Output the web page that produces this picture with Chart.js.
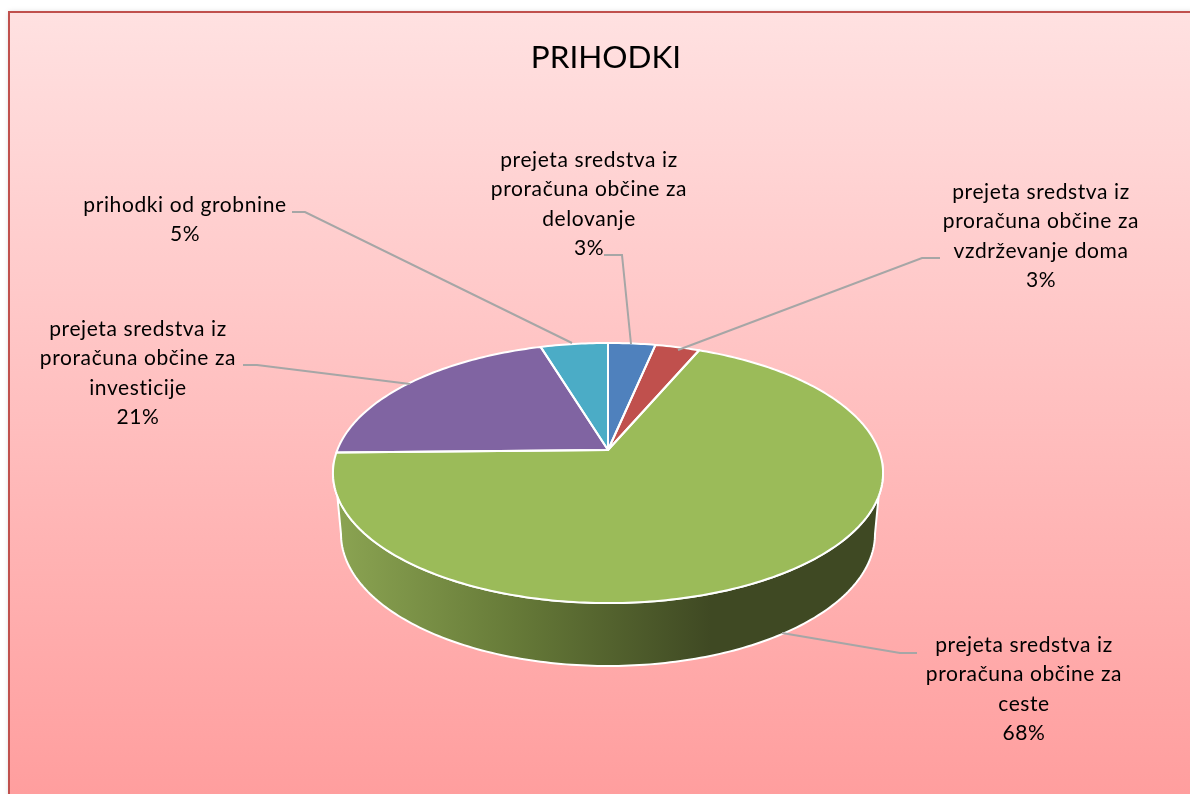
<!DOCTYPE html>
<html>
<head>
<meta charset="utf-8">
<style>html,body{margin:0;padding:0;background:#fff;overflow:hidden}canvas{display:block}</style>
<script src="https://cdn.jsdelivr.net/npm/chart.js@4/dist/chart.umd.min.js"></script>
</head>
<body>
<div style="width:1190px;height:794px"><canvas id="c" width="1190" height="794"></canvas></div>
<script>
const titleText = 'PRIHODKI';
const categories = [
  ['prejeta sredstva iz', 'proračuna občine za', 'delovanje'],
  ['prejeta sredstva iz', 'proračuna občine za', 'vzdrževanje doma'],
  ['prejeta sredstva iz', 'proračuna občine za', 'ceste'],
  ['prejeta sredstva iz', 'proračuna občine za', 'investicije'],
  ['prihodki od grobnine']
];
const values = [3.3, 3.1, 68.3, 20.6, 4.7];
const sliceColors = ['#4F81BD', '#C0504D', '#9BBB59', '#8064A2', '#4BACC6'];

// layout of the 3D look and of the labels (not data)
const FONT = 'Lato, Carlito, Calibri, sans-serif';
const pieShiftX = 2;
const persp = { A: 270.7, B: 126, k: 0.177 };
const wallBottom = { rx: 267, ry: 132, cy: 534 };
const labelPos = [
  { x: 589, y: 160 }, { x: 1041, y: 192 }, { x: 1024, y: 645 }, { x: 138, y: 329 }, { x: 185, y: 205 }
];
const leaders = [
  [[604, 255], [622, 255], [631, 344]],
  [[940, 258], [922, 258], [678, 350]],
  [[917, 653], [900, 653], [782, 633]],
  [[243, 365], [257, 365], [410, 384]],
  [[292, 212], [305, 212], [572, 343]]
];

function project(cx, cy, t) {
  const s = Math.sin(t), d = 1 - persp.k * s;
  return [cx + persp.A * Math.cos(t) / d, cy + persp.B * s / d];
}

function slicePath(ctx, cx, cy, arc) {
  const steps = Math.max(4, Math.ceil((arc.endAngle - arc.startAngle) * 60));
  ctx.beginPath();
  ctx.moveTo(cx, cy);
  for (let j = 0; j <= steps; j++) {
    const p = project(cx, cy, arc.startAngle + (arc.endAngle - arc.startAngle) * j / steps);
    ctx.lineTo(p[0], p[1]);
  }
  ctx.closePath();
}

const pie3d = {
  id: 'pie3d',
  beforeDraw(chart) {
    const { ctx, width, height } = chart;
    ctx.save();
    const g = ctx.createLinearGradient(0, 13, 0, height);
    g.addColorStop(0, '#FFE1E1');
    g.addColorStop(1, '#FF9E9E');
    ctx.fillStyle = g;
    ctx.shadowColor = 'rgba(0,0,0,0.18)';
    ctx.shadowBlur = 5;
    ctx.fillRect(9, 12, width, height);
    ctx.shadowColor = 'transparent';
    ctx.strokeStyle = '#C0504D';
    ctx.lineWidth = 2;
    ctx.beginPath();
    ctx.moveTo(9, height + 5);
    ctx.lineTo(9, 12);
    ctx.lineTo(width + 5, 12);
    ctx.stroke();
    ctx.restore();
  },
  beforeDatasetDraw(chart) {
    const { ctx } = chart;
    const arcs = chart.getDatasetMeta(0).data;
    const cx = arcs[0].x + pieShiftX, cy = arcs[0].y;
    ctx.save();
    ctx.lineJoin = 'round';
    // side wall: along the front of the top edge, then back along the lower ellipse
    const N = 160;
    const path = new Path2D();
    for (let i = 0; i <= N; i++) {
      const p = project(cx, cy, 0.09 + (Math.PI - 0.18) * i / N);
      if (i === 0) path.moveTo(p[0], p[1]); else path.lineTo(p[0], p[1]);
    }
    for (let i = 0; i <= N; i++) {
      const a = Math.PI - Math.PI * i / N;
      path.lineTo(cx + wallBottom.rx * Math.cos(a), wallBottom.cy + wallBottom.ry * Math.sin(a));
    }
    path.closePath();
    const g = ctx.createLinearGradient(cx - 272, 0, cx + 272, 0);
    g.addColorStop(0, '#8BA452');
    g.addColorStop(0.33, '#667A38');
    g.addColorStop(0.69, '#3F4923');
    g.addColorStop(1, '#3F4923');
    ctx.fillStyle = g;
    ctx.fill(path);
    ctx.strokeStyle = '#FFFFFF';
    ctx.lineWidth = 2;
    ctx.stroke(path);
    // top face, one slice per arc element of the chart
    arcs.forEach((arc, i) => {
      slicePath(ctx, cx, cy, arc);
      ctx.fillStyle = sliceColors[i];
      ctx.fill();
    });
    arcs.forEach((arc) => {
      slicePath(ctx, cx, cy, arc);
      ctx.strokeStyle = '#FFFFFF';
      ctx.lineWidth = 2;
      ctx.stroke();
    });
    ctx.restore();
    return false;
  },
  afterDraw(chart) {
    const { ctx } = chart;
    const total = values.reduce((a, b) => a + b, 0);
    ctx.save();
    ctx.strokeStyle = '#A6A6A6';
    ctx.lineWidth = 2;
    leaders.forEach(pts => {
      ctx.beginPath();
      pts.forEach((p, i) => i ? ctx.lineTo(p[0], p[1]) : ctx.moveTo(p[0], p[1]));
      ctx.stroke();
    });
    ctx.fillStyle = '#000000';
    ctx.font = '21px ' + FONT;
    ctx.letterSpacing = '0.6px';
    ctx.textAlign = 'center';
    ctx.textBaseline = 'middle';
    categories.forEach((lines, i) => {
      const all = lines.concat([Math.round(values[i] / total * 100) + '%']);
      all.forEach((t, j) => ctx.fillText(t, labelPos[i].x, labelPos[i].y + j * 29.4));
    });
    ctx.restore();
  }
};

new Chart(document.getElementById('c'), {
  type: 'pie',
  plugins: [pie3d],
  data: {
    labels: categories.map(l => l.join(' ')),
    datasets: [{ data: values, backgroundColor: sliceColors, borderColor: '#FFFFFF', borderWidth: 2 }]
  },
  options: {
    responsive: false,
    animation: false,
    events: [],
    layout: { padding: { left: 22, right: 0, top: 0, bottom: 0 } },
    plugins: {
      legend: { display: false },
      tooltip: { enabled: false },
      title: {
        display: true,
        text: titleText,
        color: '#000000',
        font: { family: FONT, size: 31.5, weight: 'normal', lineHeight: 1.2 },
        padding: { top: 39, bottom: 29.2 }
      }
    }
  }
});
</script>
</body>
</html>
